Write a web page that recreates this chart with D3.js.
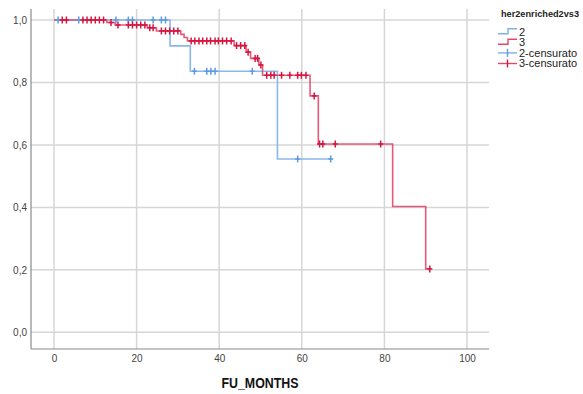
<!DOCTYPE html>
<html>
<head>
<meta charset="utf-8">
<script src="https://cdn.jsdelivr.net/npm/d3@7"></script>
<style>
  body { margin: 0; background: #fff; }
  svg text { font-family: "Liberation Sans", Arial, sans-serif; }
</style>
</head>
<body>
<svg id="chart" width="583" height="394"></svg>
<script>
// Kaplan-Meier steps
const groups = ["2", "3"];

const g2Times = [0, 28.1, 33, 54.1];
const g2Surv = [1, 0.917, 0.836, 0.555];
const g2End = 67.5;
const g2Censored = [1, 6, 15, 18, 19, 24, 26, 27, 34, 37, 38, 39, 48, 59, 67];

const g3Times = [0, 12.8, 14.8, 22.6, 24.8, 30.7, 31.5, 32.3, 43.6, 46.5, 47.6, 49.6, 50.5, 62, 64, 82, 90];
const g3Surv = [1, 0.992, 0.984, 0.975, 0.965, 0.954, 0.944, 0.933, 0.918, 0.897, 0.877, 0.856, 0.823, 0.757, 0.603, 0.403, 0.203];
const g3End = 91;
const g3Censored = [2, 3, 7, 8, 9, 10, 11, 12, 13.8, 15.5, 18, 19, 20, 21, 22, 23.2, 24, 26, 27, 28, 29, 30,
  33.2, 34.1, 35.1, 36, 37, 37.9, 39, 39.8, 40.8, 41.8, 42.9, 44.2, 45.2, 46.2, 47, 48.7, 49.3, 50.1,
  51.5, 52.5, 53.3, 55.1, 57.1, 59, 59.9, 61, 63, 64.3, 65.1, 68.1, 79.1, 91];

const xTicks = [0, 20, 40, 60, 80, 100];
const yTicks = [0, 0.2, 0.4, 0.6, 0.8, 1.0];
const legendLabels = ["2", "3", "2-censurato", "3-censurato"];

const lineColor = { "2": "#7eb0ea", "3": "#e2486c" };
const markColor = { "2": "#5d9be3", "3": "#d5153f" };

const svg = d3.select("#chart");
const plotLeft = 31, plotRight = 489, plotTop = 9, plotBottom = 349;

const x = d3.scaleLinear().domain([0, 100]).range([54, 467]);
const y = d3.scaleLinear().domain([0, 1]).range([332.3, 20]);

// grid
svg.append("g").selectAll("line").data(xTicks).join("line")
  .attr("x1", d => x(d)).attr("x2", d => x(d))
  .attr("y1", plotTop).attr("y2", plotBottom)
  .attr("stroke", "#d6d6d6").attr("stroke-width", 1.5);
svg.append("g").selectAll("line").data(yTicks).join("line")
  .attr("x1", plotLeft).attr("x2", plotRight)
  .attr("y1", d => y(d)).attr("y2", d => y(d))
  .attr("stroke", "#d6d6d6").attr("stroke-width", 1.5);

// axes
const fmt = d => d3.format(".1f")(d).replace(".", ",");
const yAxis = svg.append("g").attr("transform", `translate(${plotLeft},0)`)
  .call(d3.axisLeft(y).tickValues(yTicks).tickSize(0).tickPadding(4).tickFormat(fmt));
yAxis.select(".domain").remove();
yAxis.selectAll("text").attr("font-size", 10).attr("fill", "#444")
  .style("font-family", "'Liberation Sans', Arial, sans-serif");

const xAxis = svg.append("g").attr("transform", `translate(0,${plotBottom})`)
  .call(d3.axisBottom(x).tickValues(xTicks).tickSize(0).tickPadding(6).tickFormat(d3.format("d")));
xAxis.select(".domain").remove();
xAxis.selectAll("text").attr("font-size", 10).attr("fill", "#444")
  .style("font-family", "'Liberation Sans', Arial, sans-serif");

svg.append("line").attr("x1", plotLeft).attr("x2", plotLeft).attr("y1", plotTop).attr("y2", plotBottom)
  .attr("stroke", "#8a8a8a").attr("stroke-width", 1.2);
svg.append("line").attr("x1", plotLeft).attr("x2", plotRight).attr("y1", plotBottom).attr("y2", plotBottom)
  .attr("stroke", "#8a8a8a").attr("stroke-width", 1.2);

svg.append("text").attr("x", 260).attr("y", 388).attr("text-anchor", "middle")
  .attr("font-size", 14).attr("font-weight", "bold").attr("fill", "#111")
  .attr("textLength", 77).attr("lengthAdjust", "spacingAndGlyphs")
  .text("FU_MONTHS");

// curves
const series = [
  { key: "2", times: g2Times, surv: g2Surv, end: g2End, cens: g2Censored },
  { key: "3", times: g3Times, surv: g3Surv, end: g3End, cens: g3Censored }
];
const line = d3.line().x(d => x(d[0])).y(d => y(d[1])).curve(d3.curveStepAfter);
const survAt = (s, t) => {
  const i = d3.bisectRight(s.times, t) - 1;
  return s.surv[Math.max(0, i)];
};

series.forEach(s => {
  const pts = s.times.map((t, i) => [t, s.surv[i]]);
  pts.push([s.end, s.surv[s.surv.length - 1]]);
  svg.append("path").datum(pts).attr("d", line)
    .attr("fill", "none").attr("stroke", lineColor[s.key]).attr("stroke-width", 1.6)
    .attr("stroke-opacity", 0.9);
});

series.forEach(s => {
  const g = svg.append("g").attr("stroke", markColor[s.key]).attr("stroke-width", 1.5);
  s.cens.forEach(t => {
    const cx = x(t), cy = y(survAt(s, t));
    g.append("line").attr("x1", cx).attr("x2", cx).attr("y1", cy - 3.5).attr("y2", cy + 3.5);
    g.append("line").attr("x1", cx - 2.5).attr("x2", cx + 2.5).attr("y1", cy).attr("y2", cy);
  });
});

// legend
const lg = svg.append("g");
lg.append("text").attr("x", 501).attr("y", 17).attr("font-size", 9).attr("font-weight", "bold")
  .attr("fill", "#222").attr("textLength", 78).attr("lengthAdjust", "spacingAndGlyphs")
  .text("her2enriched2vs3");
legendLabels.forEach((lab, i) => {
  const ly = 31.7 + i * 10.6;
  const key = lab.charAt(0);
  if (i < 2) {
    lg.append("path").attr("d", `M498,${ly + 2}H508V${ly - 3}H517`)
      .attr("fill", "none").attr("stroke", lineColor[key]).attr("stroke-width", 1.4);
  } else {
    lg.append("line").attr("x1", 498).attr("x2", 517).attr("y1", ly).attr("y2", ly)
      .attr("stroke", lineColor[key]).attr("stroke-width", 1.4);
    lg.append("line").attr("x1", 507.5).attr("x2", 507.5).attr("y1", ly - 4).attr("y2", ly + 4)
      .attr("stroke", markColor[key]).attr("stroke-width", 1.4);
  }
  lg.append("text").attr("x", 519).attr("y", ly + 3.8).attr("font-size", 11).attr("fill", "#222")
    .text(lab);
});
</script>
</body>
</html>
